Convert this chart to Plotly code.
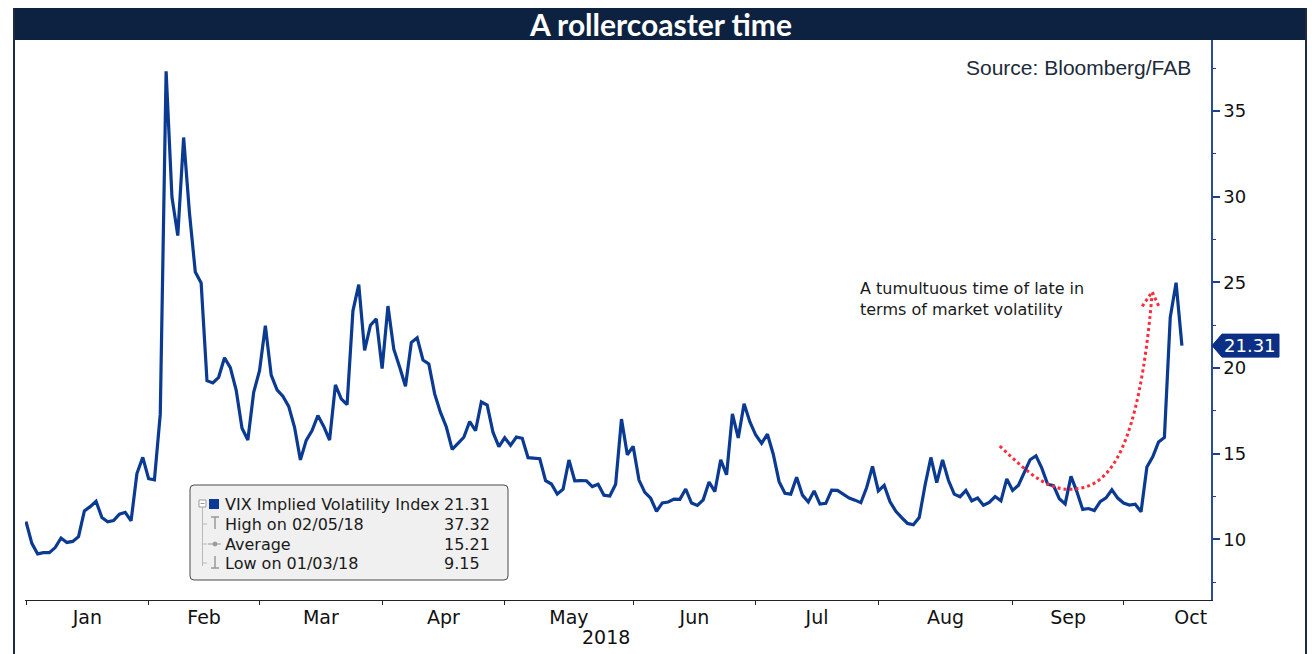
import numpy as np
import pandas as pd
import plotly.graph_objects as go

# ---------------- data (VIX daily close) ----------------
vix_dec = [11.04]
vix_jan = [9.77, 9.15, 9.22, 9.22, 9.52, 10.08, 9.82, 9.88, 10.16, 11.66, 11.91, 12.22, 11.27,
           11.03, 11.10, 11.47, 11.58, 11.08, 13.84, 14.79, 13.54]
vix_feb = [13.47, 17.31, 37.32, 29.98, 27.73, 33.46, 29.06, 25.61, 24.97, 19.26, 19.13, 19.46,
           20.60, 20.02, 18.72, 16.49, 15.80, 18.59, 19.85]
vix_mar = [22.47, 19.59, 18.73, 18.36, 17.76, 16.54, 14.64, 15.78, 16.35, 17.23, 16.59, 15.80,
           19.02, 18.20, 17.86, 23.34, 24.87, 21.03, 22.50, 22.87, 19.97]
vix_apr = [23.62, 21.10, 20.06, 18.94, 21.49, 21.77, 20.47, 20.24, 18.49, 17.41, 16.56, 15.25,
           15.60, 15.96, 16.88, 16.34, 18.02, 17.84, 16.24, 15.41, 15.93]
vix_may = [15.49, 15.97, 15.90, 14.77, 14.75, 14.71, 13.42, 13.23, 12.65, 12.93, 14.63, 13.42,
           13.43, 13.42, 13.08, 13.22, 12.58, 12.53, 13.22, 17.02, 14.94, 15.43]
vix_jun = [13.46, 12.74, 12.40, 11.64, 12.13, 12.18, 12.35, 12.34, 12.94, 12.12, 11.98, 12.31,
           13.35, 12.79, 14.64, 13.77, 17.33, 15.92, 17.91, 16.85, 16.09]
vix_jul = [15.60, 16.14, 14.97, 13.37, 12.69, 12.64, 13.63, 12.58, 12.18, 12.83, 12.06, 12.10,
           12.87, 12.86, 12.62, 12.41, 12.29, 12.14, 13.03, 14.26, 12.83]
vix_aug = [13.15, 12.19, 11.64, 11.27, 10.93, 10.85, 11.27, 13.16, 14.78, 13.31, 14.64, 13.45,
           12.64, 12.49, 12.86, 12.25, 12.41, 11.99, 12.16, 12.50, 12.25, 13.53, 12.86]
vix_sep = [13.16, 13.91, 14.65, 14.88, 14.16, 13.22, 13.14, 12.37, 12.07, 13.68, 12.79, 11.75,
           11.80, 11.68, 12.20, 12.42, 12.89, 12.41, 12.12]
vix_oct = [12.00, 12.05, 11.61, 14.22, 14.82, 15.69, 15.95, 22.96, 24.98, 21.31]

vix = (vix_dec + vix_jan + vix_feb + vix_mar + vix_apr + vix_may + vix_jun + vix_jul
       + vix_aug + vix_sep + vix_oct)

market_holidays = ["2018-01-01", "2018-01-15", "2018-02-19", "2018-03-30",
                   "2018-05-28", "2018-07-04", "2018-09-03"]
dates = pd.bdate_range("2017-12-29", "2018-10-12")
dates = dates[~dates.isin(pd.to_datetime(market_holidays))]
assert len(dates) == len(vix)

month_labels = ["Jan", "Feb", "Mar", "Apr", "May", "Jun", "Jul", "Aug", "Sep", "Oct"]
year_label = "2018"
average_label = "15.21"
series_name = "VIX Implied Volatility Index"
title_text = "A rollercoaster time"
source_text = "Source: Bloomberg/FAB"
note_text = "A tumultuous time of late in<br>terms of market volatility"

# ---------------- derived positions (trading-day axis) ----------------
idx = np.arange(len(dates))
ser = pd.Series(idx, index=dates)
month_key = dates.to_period("M")
boundaries = [int(ser[month_key == m].iloc[-1]) for m in month_key.unique()[:-1]]  # last day Dec..Sep
oct_days = len(pd.bdate_range("2018-10-01", "2018-10-31"))
ends = boundaries[1:] + [boundaries[-1] + oct_days]
mids = [(a + b) / 2 for a, b in zip(boundaries, ends)]

last_val = vix[-1]
hi_i = int(np.argmax(vix)); lo_i = int(np.argmin(vix))
hi_txt = dates[hi_i].strftime("%m/%d/%y"); lo_txt = dates[lo_i].strftime("%m/%d/%y")

# ---------------- layout geometry ----------------
W, H = 1312, 654
L, R, T, B = 25, 1211, 40, 600
XR = [-0.171, 202.98]
YR = [6.46, 39.15]


def px(xp):
    return (xp - L) / (R - L)


def py(yp):
    return (B - yp) / (B - T)


FONT = "DejaVu Sans"
NAVY = "#0a3a92"

fig = go.Figure()
fig.add_trace(go.Scatter(x=idx, y=vix, mode="lines", line=dict(color=NAVY, width=3.2),
                         showlegend=False, hoverinfo="skip"))
fig.add_trace(go.Scatter(x=[0], y=[None], xaxis="x2", showlegend=False, hoverinfo="skip"))

shapes = []
annos = []

# banner + frame
shapes.append(dict(type="rect", xref="paper", yref="paper", x0=px(14), x1=px(1306),
                   y0=py(40), y1=py(8), fillcolor="#0d2240", line=dict(width=0)))
for xl in (14, 1306):
    shapes.append(dict(type="line", xref="paper", yref="paper", x0=px(xl), x1=px(xl),
                       y0=py(8), y1=py(654), line=dict(color="#1b2b44", width=2)))
annos.append(dict(text=title_text, xref="paper", yref="paper", x=px(660), y=py(24),
                  showarrow=False, xanchor="center", yanchor="middle",
                  font=dict(family="Lato", size=30, color="white", weight="bold")))
annos.append(dict(text=source_text, xref="paper", yref="paper", x=px(1193), y=py(67),
                  showarrow=False, xanchor="right", yanchor="middle",
                  font=dict(family="Liberation Sans", size=21, color="#1d2b3a")))
annos.append(dict(text=note_text, xref="paper", yref="paper", x=px(858), y=py(299),
                  showarrow=False, xanchor="left", yanchor="middle", align="left",
                  font=dict(family=FONT, size=16, color="#1a1a1a")))
annos.append(dict(text=year_label, xref="x", yref="paper", x=99.35, y=py(637),
                  showarrow=False, xanchor="center", yanchor="middle",
                  font=dict(family=FONT, size=19, color="#111")))

# red dotted arrow (annotation)
curve = ("M 166.8,15.45 C 172.0,13.76 175.4,12.76 179.7,12.94 "
         "C 185.7,13.11 190.6,15.2 192.9,24.35")
shapes.append(dict(type="path", xref="x", yref="y", path=curve,
                   line=dict(color="#ff2a3a", width=3, dash="dot")))
shapes.append(dict(type="path", xref="x", yref="y",
                   path="M 191.2,23.6 L 192.9,24.45 L 194.2,23.5",
                   line=dict(color="#ff2a3a", width=3, dash="dot")))

# last value tag
hh = 11.5 / ((B - T) / (YR[1] - YR[0]))
tag = (f"M {px(1212)},{last_val} L {px(1222)},{last_val + hh} L {px(1279)},{last_val + hh} "
       f"L {px(1279)},{last_val - hh} L {px(1222)},{last_val - hh} Z")
shapes.append(dict(type="path", xref="paper", yref="y", path=tag, fillcolor="#0b2f85",
                   line=dict(color="#0b2f85", width=1)))
annos.append(dict(text=f"{last_val:.2f}", xref="paper", yref="y", x=px(1250), y=last_val,
                  showarrow=False, xanchor="center", yanchor="middle",
                  font=dict(family=FONT, size=18, color="white")))

# legend box
x0b, x1b, y0b, y1b, rr = 190, 508, 485, 580, 4
box = (f"M {px(x0b + rr)},{py(y0b)} L {px(x1b - rr)},{py(y0b)} Q {px(x1b)},{py(y0b)} {px(x1b)},{py(y0b + rr)} "
       f"L {px(x1b)},{py(y1b - rr)} Q {px(x1b)},{py(y1b)} {px(x1b - rr)},{py(y1b)} "
       f"L {px(x0b + rr)},{py(y1b)} Q {px(x0b)},{py(y1b)} {px(x0b)},{py(y1b - rr)} "
       f"L {px(x0b)},{py(y0b + rr)} Q {px(x0b)},{py(y0b)} {px(x0b + rr)},{py(y0b)} Z")
shapes.append(dict(type="path", xref="paper", yref="paper", path=box, fillcolor="#f0f0f0",
                   line=dict(color="#4a4a4a", width=1)))
rows_y = [504, 523, 543, 562]
labels = [series_name, f"High on {hi_txt}", "Average", f"Low on {lo_txt}"]
values = [f"{last_val:.2f}", f"{max(vix):.2f}", average_label, f"{min(vix):.2f}"]
for ry, lab, val in zip(rows_y, labels, values):
    annos.append(dict(text=lab, xref="paper", yref="paper", x=px(223), y=py(ry + 1),
                      showarrow=False, xanchor="left", yanchor="middle",
                      font=dict(family=FONT, size=16, color="#1a1a1a")))
    annos.append(dict(text=val, xref="paper", yref="paper", x=px(442), y=py(ry + 1),
                      showarrow=False, xanchor="left", yanchor="middle",
                      font=dict(family=FONT, size=16, color="#1a1a1a")))
GR = "#9a9a9a"
# collapse icon and tree
shapes.append(dict(type="rect", xref="paper", yref="paper", x0=px(199), x1=px(206),
                   y0=py(507), y1=py(500), line=dict(color=GR, width=1), fillcolor="white"))
shapes.append(dict(type="line", xref="paper", yref="paper", x0=px(200.5), x1=px(204.5),
                   y0=py(503.5), y1=py(503.5), line=dict(color=GR, width=1)))
shapes.append(dict(type="rect", xref="paper", yref="paper", x0=px(209), x1=px(219),
                   y0=py(509), y1=py(499), line=dict(width=0), fillcolor="#0b3a96"))
shapes.append(dict(type="line", xref="paper", yref="paper", x0=px(202.5), x1=px(202.5),
                   y0=py(507), y1=py(566), line=dict(color="#b8b8b8", width=1)))
for ry in rows_y[1:]:
    shapes.append(dict(type="line", xref="paper", yref="paper", x0=px(202.5), x1=px(207),
                       y0=py(ry + 1), y1=py(ry + 1), line=dict(color="#b8b8b8", width=1)))
# high glyph
shapes.append(dict(type="line", xref="paper", yref="paper", x0=px(211), x1=px(219),
                   y0=py(517), y1=py(517), line=dict(color=GR, width=1.5)))
shapes.append(dict(type="line", xref="paper", yref="paper", x0=px(215), x1=px(215),
                   y0=py(517), y1=py(529), line=dict(color=GR, width=1.5)))
# average glyph
shapes.append(dict(type="line", xref="paper", yref="paper", x0=px(208), x1=px(221),
                   y0=py(544), y1=py(544), line=dict(color=GR, width=1)))
shapes.append(dict(type="circle", xref="paper", yref="paper", x0=px(213), x1=px(217),
                   y0=py(546), y1=py(542), line=dict(color=GR, width=1), fillcolor=GR))
# low glyph
shapes.append(dict(type="line", xref="paper", yref="paper", x0=px(215), x1=px(215),
                   y0=py(556), y1=py(568), line=dict(color=GR, width=1.5)))
shapes.append(dict(type="line", xref="paper", yref="paper", x0=px(211), x1=px(219),
                   y0=py(568), y1=py(568), line=dict(color=GR, width=1.5)))

fig.update_layout(
    width=W, height=H, autosize=False,
    margin=dict(l=L, r=W - R, t=T, b=H - B, pad=0),
    paper_bgcolor="white", plot_bgcolor="white",
    showlegend=False,
    xaxis=dict(range=XR, tickmode="array", tickvals=mids, ticktext=month_labels,
               ticks="", showline=True, linecolor="#222", linewidth=1,
               showgrid=False, zeroline=False,
               tickfont=dict(family=FONT, size=19, color="#111")),
    xaxis2=dict(range=XR, overlaying="x", anchor="y", side="bottom", tickmode="array",
                tickvals=boundaries, ticks="outside", ticklen=4, tickwidth=1,
                tickcolor="#222", showticklabels=False, showline=False,
                showgrid=False, zeroline=False),
    yaxis=dict(range=YR, side="right", tick0=0, dtick=5, ticks="outside", ticklen=7,
               tickwidth=2, tickcolor="#1c3f94", showline=True, linecolor="#2a4b9b",
               linewidth=1.5, showgrid=False, zeroline=False,
               tickfont=dict(family=FONT, size=18, color="#111"),
               minor=dict(dtick=2.5, tick0=0, ticks="outside", ticklen=3, tickwidth=1,
                          tickcolor="#1c3f94", showgrid=False)),
    shapes=shapes, annotations=annos,
)

fig.write_html("out.html")
